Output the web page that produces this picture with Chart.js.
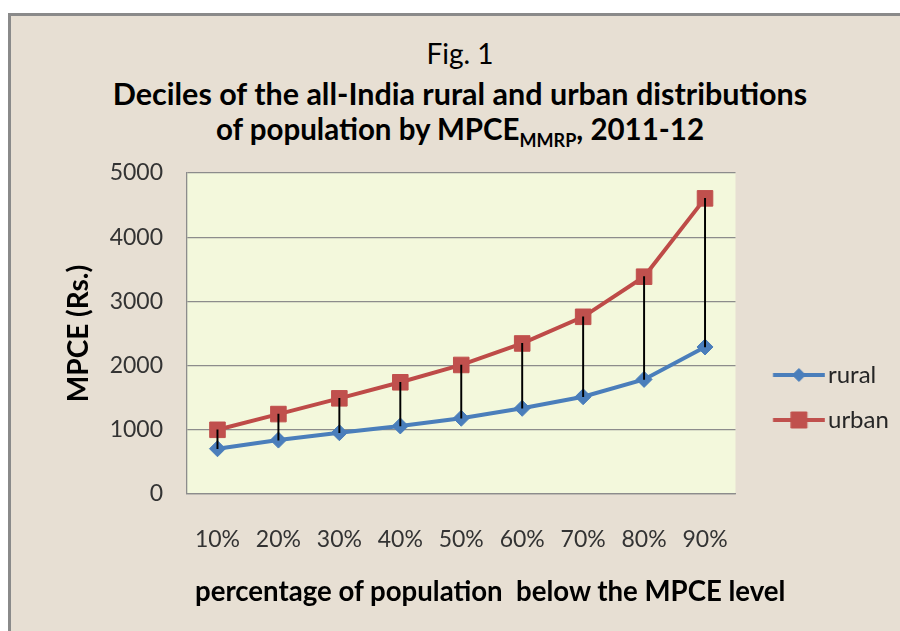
<!DOCTYPE html>
<html><head><meta charset="utf-8">
<script src="https://cdn.jsdelivr.net/npm/chart.js@4.4.1/dist/chart.umd.min.js"></script>
<style>
html,body{margin:0;padding:0;background:#fff;width:900px;height:631px;overflow:hidden;}
#frame{position:absolute;left:8px;top:13px;width:900px;height:640px;border-left:3px solid #8a8a8a;border-top:3px solid #8a8a8a;background:#E7DFD3;box-sizing:border-box;}
#c{position:absolute;left:0;top:0;}
.t{position:absolute;left:0;width:920px;text-align:center;font-family:Lato,sans-serif;color:#000;line-height:1;white-space:pre;}
sub{font-size:18px;vertical-align:-7px;line-height:0;}
#xt{position:absolute;left:195px;top:577px;font-family:Lato,sans-serif;font-weight:bold;font-size:27.6px;line-height:1;color:#000;white-space:pre;}
</style></head><body>
<div id="frame"></div>
<div class="t" style="top:38.5px;font-size:28px;">Fig. 1</div>
<div class="t" style="top:78px;font-size:30.5px;font-weight:bold;">Deciles of the all-India rural and urban distributions</div>
<div class="t" style="top:113.5px;font-size:29.5px;font-weight:bold;">of population by MPCE<sub>MMRP</sub>, 2011-12</div>
<canvas id="c" width="900" height="631"></canvas>
<div id="xt"></div>
<script>
// ---- data ----
const categories = ['10%', '20%', '30%', '40%', '50%', '60%', '70%', '80%', '90%'];
const rural = [705, 840, 955, 1060, 1180, 1335, 1515, 1785, 2290];
const urban = [1000, 1245, 1490, 1740, 2010, 2345, 2760, 3385, 4605];
const seriesNames = ['rural', 'urban'];
const yTickValues = [0, 1000, 2000, 3000, 4000, 5000];
const xTitle = 'percentage of population  below the MPCE level';
const yTitle = 'MPCE (Rs.)';

document.getElementById('xt').textContent = xTitle;

// ---- styles ----
const RURAL = '#4A7EBB';
const URBAN = '#BE4B48';
const GRID = '#8C8C8C';
const PLOT_BG = '#F3F8DC';
const FONT = 'Lato';

Chart.defaults.font.family = FONT;

// legend geometry
const LG_FONT = 24, LG_PAD = 21, LG_BOX = 59.5, LG_WIDTH = 164.5;
const LG_LINE_L = 773, LG_LINE_R = 825;
const lgCenter = 900 - LG_WIDTH + LG_PAD + LG_BOX / 2;
const imgW = Math.ceil(2 * (LG_LINE_R - lgCenter));
function legendSymbol(color, shape, r) {
  const c = document.createElement('canvas');
  c.width = imgW; c.height = 26;
  const off = imgW / 2 - lgCenter;
  const g = c.getContext('2d');
  g.strokeStyle = color; g.lineWidth = 4;
  g.beginPath(); g.moveTo(LG_LINE_L + off, 13); g.lineTo(LG_LINE_R + off, 13); g.stroke();
  const mx = (LG_LINE_L + LG_LINE_R) / 2 + off;
  g.fillStyle = color; g.lineWidth = 1;
  g.beginPath();
  if (shape === 'diamond') {
    g.moveTo(mx, 13 - r); g.lineTo(mx + r, 13); g.lineTo(mx, 13 + r); g.lineTo(mx - r, 13); g.closePath();
  } else {
    g.rect(mx - r, 13 - r, 2 * r, 2 * r);
  }
  g.fill(); g.stroke();
  return c;
}
const symbols = [legendSymbol(RURAL, 'diamond', 6.5), legendSymbol('#C0504D', 'square', 8)];

const plotBg = {
  id: 'plotBg',
  beforeDraw(chart) {
    const {ctx, chartArea: a} = chart;
    ctx.save(); ctx.fillStyle = PLOT_BG;
    ctx.fillRect(a.left, a.top, a.right - a.left, a.bottom - a.top);
    ctx.restore();
  }
};

const chart = new Chart(document.getElementById('c'), {
  data: {
    labels: categories,
    datasets: [
      {type: 'line', label: seriesNames[0], data: rural, order: 2,
       borderColor: RURAL, backgroundColor: RURAL, borderWidth: 4, tension: 0,
       pointStyle: 'rectRot', pointRadius: 8, pointBorderWidth: 1,
       pointBackgroundColor: RURAL, pointBorderColor: RURAL},
      {type: 'line', label: seriesNames[1], data: urban, order: 1,
       borderColor: URBAN, backgroundColor: URBAN, borderWidth: 4, tension: 0,
       pointStyle: 'rect', pointRadius: 11, pointBorderWidth: 1,
       pointBackgroundColor: '#C0504D', pointBorderColor: '#C0504D'},
      {type: 'bar', label: 'gap', data: rural.map((r, i) => [r, urban[i]]), order: 0,
       backgroundColor: '#000', borderWidth: 0, barThickness: 1.3, grouped: false}
    ]
  },
  options: {
    responsive: false,
    devicePixelRatio: 1,
    animation: false,
    layout: {padding: {top: 173, left: 0, right: 0, bottom: 0}},
    plugins: {
      tooltip: {enabled: false},
      title: {display: false},
      legend: {
        position: 'right', align: 'start',
        title: {display: true, text: ' ', font: {size: 10}, padding: {top: 157, bottom: 0}},
        labels: {
          usePointStyle: true, pointStyleWidth: LG_BOX, padding: LG_PAD,
          font: {size: LG_FONT}, color: '#262626',
          generateLabels(ch) {
            return ch.data.datasets.slice(0, 2).map((ds, i) => ({
              text: ds.label, pointStyle: symbols[i], fillStyle: ds.borderColor,
              strokeStyle: ds.borderColor, lineWidth: 0, hidden: false,
              datasetIndex: i, fontColor: '#262626'
            }));
          }
        }
      }
    },
    scales: {
      x: {
        type: 'category', offset: true,
        grid: {display: false, drawTicks: false},
        border: {display: true, color: GRID, width: 1.3},
        ticks: {padding: 32, color: '#333', font: {size: 23}},
        title: {display: false},
        afterFit(s) { s.height = 137; }
      },
      y: {
        min: 0, max: 5000,
        afterBuildTicks(s) { s.ticks = yTickValues.map(v => ({value: v})); },
        grid: {color: GRID, lineWidth: 1.3, drawTicks: false},
        border: {display: true, color: GRID, width: 1.3},
        ticks: {padding: 24, color: '#333', font: {size: 23}, callback: v => String(v)},
        title: {display: true, text: yTitle, color: '#000', font: {size: 28, weight: 'bold'}, padding: {top: 61.7, bottom: 0}},
        afterFit(s) { s.width = 187; }
      }
    }
  },
  plugins: [plotBg]
});

const lg = chart.legend;
const origFit = lg.fit;
lg.fit = function () { origFit.call(this); this.width = LG_WIDTH; };
chart.update();
</script>
</body></html>
